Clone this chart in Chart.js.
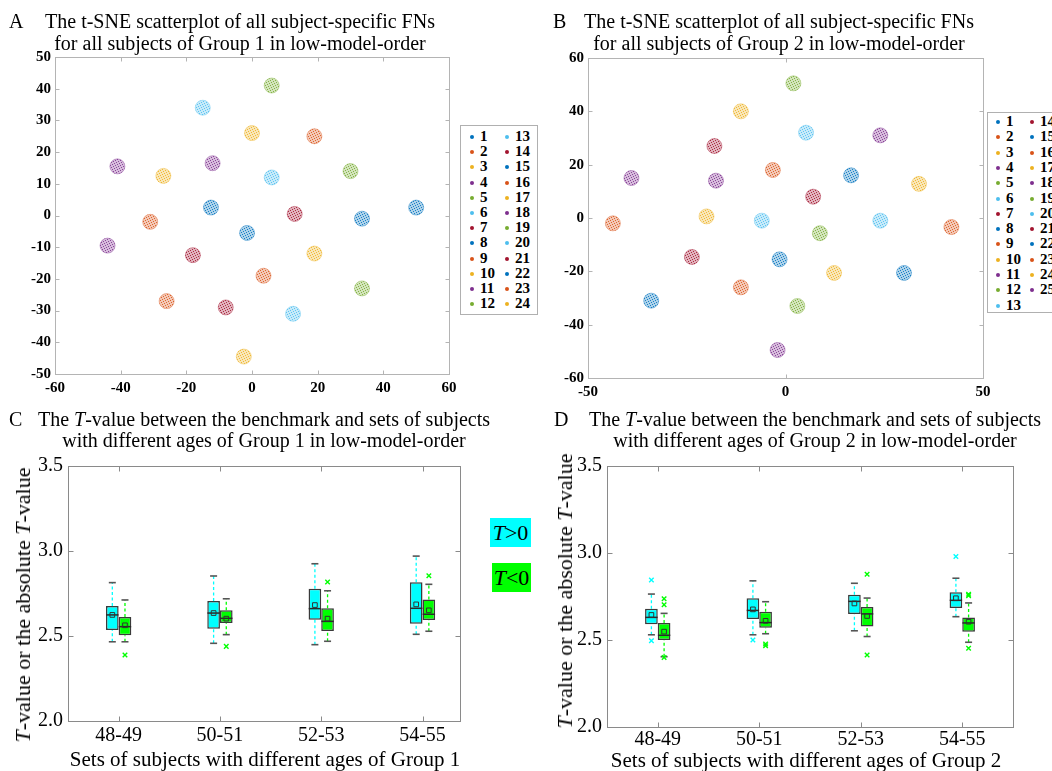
<!DOCTYPE html>
<html><head><meta charset="utf-8">
<script src="https://cdn.jsdelivr.net/npm/chart.js@4.4.1/dist/chart.umd.min.js"></script>
<style>
body{margin:0;background:#fff;}
#wrap{position:relative;width:1052px;height:771px;overflow:hidden;background:#fff;font-family:'Liberation Serif','Times New Roman',serif;color:#000;}
#wrap canvas{position:absolute;}
.t{position:absolute;white-space:nowrap;font-size:20px;}
.c{transform:translateX(-50%);text-align:center;}
.leg{position:absolute;border:1px solid #b0b0b0;background:#fff;font-weight:bold;font-size:15px;}
.leg .it{position:absolute;line-height:15px;}
.leg .dot{position:absolute;width:4px;height:4px;border-radius:50%;}
.ylab{position:absolute;white-space:nowrap;font-size:22px;transform:translate(-50%,-50%) rotate(-90deg);}
.sign{position:absolute;font-size:22px;line-height:29px;text-align:center;}
</style></head>
<body>
<div id="wrap">
  <canvas id="cA" width="545" height="410" style="left:0;top:0"></canvas>
  <canvas id="cB" width="507" height="410" style="left:545px;top:0"></canvas>
  <canvas id="cC" width="480" height="330" style="left:0;top:440px"></canvas>
  <canvas id="cD" width="507" height="330" style="left:545px;top:440px"></canvas>

  <div class="t" style="left:9px;top:10px;line-height:22px">A</div>
  <div class="t c" style="left:240px;top:10px;line-height:22px">The t-SNE scatterplot of all subject-specific FNs<br>for all subjects of Group 1 in low-model-order</div>
  <div class="t" style="left:553px;top:10px;line-height:22px">B</div>
  <div class="t c" style="left:779px;top:10px;line-height:22px">The t-SNE scatterplot of all subject-specific FNs<br>for all subjects of Group 2 in low-model-order</div>

  <div class="t" style="left:9px;top:409px;line-height:21px">C</div>
  <div class="t c" style="left:264px;top:409px;line-height:21px">The <i>T</i>-value between the benchmark and sets of subjects<br>with different ages of Group 1 in low-model-order</div>
  <div class="t" style="left:554px;top:409px;line-height:21px">D</div>
  <div class="t c" style="left:815px;top:409px;line-height:21px">The <i>T</i>-value between the benchmark and sets of subjects<br>with different ages of Group 2 in low-model-order</div>

  <div class="t c" style="left:265px;top:748px;line-height:22px;font-size:21px">Sets of subjects with different ages of Group 1</div>
  <div class="t c" style="left:806px;top:749px;line-height:22px;font-size:21px">Sets of subjects with different ages of Group 2</div>
  <div class="ylab" style="left:23px;top:605px"><i>T</i>-value or the absolute <i>T</i>-value</div>
  <div class="ylab" style="left:565px;top:591px"><i>T</i>-value or the absolute <i>T</i>-value</div>

  <div class="sign" style="left:490px;top:518px;width:41px;height:29px;background:#00FFFF"><i>T</i>&gt;0</div>
  <div class="sign" style="left:492px;top:563px;width:39px;height:29px;background:#00FF00"><i>T</i>&lt;0</div>

  <div id="legA" class="leg" style="left:460px;top:125px;width:76px;height:188px"></div>
  <div id="legB" class="leg" style="left:987px;top:112px;width:90px;height:199px"></div>
</div>
<script>
// ---------- data ----------
const FN_COLORS = ['#0072BD','#D95319','#EDB120','#7E2F8E','#77AC30','#4DBEEE','#A2142F'];

// Panel A: t-SNE cluster centres, FN 1..24 (Group 1)
const fnA_x = [-12.5, 19, 0, -41, 6, -15, 13, -1.5, -31, -27, -12, 30, 6, -18, 33.5, 3.5, 19, -44, 33.5, 12.5, -8, 50, -26, -2.5];
const fnA_y = [2.5, 25, 26, 15.5, 41, 34, 0.5, -5.5, -2, 12.5, 16.5, 14, 12, -12.5, -1, -19, -12, -9.5, -23, -31, -29, 2.5, -27, -44.5];

// Panel B: t-SNE cluster centres, FN 1..25 (Group 2)
const fnB_x = [16.6, -3.2, -11.3, 24, 2, 5.2, -18, -1.5, -43.7, 33.8, -39, 8.7, -6, 7, 30, 42, -20, -17.6, 3, 24, -23.7, -34, -11.3, 12.3, -2];
const fnB_y = [16, 18, 40, 31, 50.5, 32, 27, -15.5, -2, 12.8, 15, -5.7, -1, 8, -20.6, -3.4, 0.6, 14, -33, -1, -14.6, -31, -26, -20.6, -49.5];

const ageSets = ['48-49', '50-51', '52-53', '54-55'];

// Panel C: Group 1, T>0
const g1Pos_lo   = [2.466, 2.457, 2.449, 2.510];
const g1Pos_q1   = [2.535, 2.543, 2.596, 2.572];
const g1Pos_med  = [2.624, 2.635, 2.661, 2.663];
const g1Pos_q3   = [2.676, 2.706, 2.778, 2.816];
const g1Pos_hi   = [2.814, 2.853, 2.925, 2.970];
const g1Pos_mean = [2.624, 2.635, 2.682, 2.686];
const g1Pos_out  = [[], [], [], []];
// Panel C: Group 1, T<0
const g1Neg_lo   = [2.466, 2.508, 2.469, 2.528];
const g1Neg_q1   = [2.504, 2.576, 2.529, 2.594];
const g1Neg_med  = [2.555, 2.604, 2.586, 2.628];
const g1Neg_q3   = [2.612, 2.651, 2.663, 2.714];
const g1Neg_hi   = [2.712, 2.719, 2.766, 2.804];
const g1Neg_mean = [2.563, 2.602, 2.602, 2.651];
const g1Neg_out  = [[2.388], [2.439], [2.818], [2.855]];

// Panel D: Group 2, T>0
const g2Pos_lo   = [2.530, 2.530, 2.553, 2.634];
const g2Pos_q1   = [2.590, 2.620, 2.650, 2.684];
const g2Pos_med  = [2.630, 2.670, 2.722, 2.728];
const g2Pos_q3   = [2.680, 2.740, 2.760, 2.774];
const g2Pos_hi   = [2.764, 2.840, 2.826, 2.855];
const g2Pos_mean = [2.644, 2.676, 2.710, 2.740];
const g2Pos_out  = [[2.845, 2.496], [2.500], [], [2.980]];
// Panel D: Group 2, T<0
const g2Neg_lo   = [2.404, 2.536, 2.520, 2.487];
const g2Neg_q1   = [2.500, 2.570, 2.577, 2.548];
const g2Neg_med  = [2.527, 2.600, 2.650, 2.598];
const g2Neg_q3   = [2.598, 2.663, 2.690, 2.630];
const g2Neg_hi   = [2.653, 2.720, 2.741, 2.713];
const g2Neg_mean = [2.548, 2.610, 2.638, 2.605];
const g2Neg_out  = [[2.737, 2.703, 2.400], [2.477, 2.467], [2.878, 2.414], [2.763, 2.755, 2.452]];

// ---------- helpers ----------
const SERIF = "'Liberation Serif','Times New Roman',serif";
Chart.defaults.font.family = SERIF;
Chart.defaults.color = '#000';

function hexToRgba(h, a){
  const n = parseInt(h.slice(1), 16);
  return `rgba(${(n>>16)&255},${(n>>8)&255},${n&255},${a})`;
}
function stipple(hex){
  const c = document.createElement('canvas'); c.width = 5; c.height = 5;
  const g = c.getContext('2d');
  g.fillStyle = hexToRgba(hex, 0.32); g.fillRect(0,0,5,5);
  g.fillStyle = hexToRgba(hex, 0.85);
  [[0,0],[3,1],[1,2],[4,3],[2,4]].forEach(p => g.fillRect(p[0], p[1], 1, 1));
  return g.createPattern(c, 'repeat');
}
const colorOf = i => FN_COLORS[i % FN_COLORS.length];

const framePlugin = {
  id: 'frame',
  afterDraw(chart, args, o){
    const {ctx, chartArea: ca, scales: {x, y}} = chart;
    ctx.save();
    ctx.strokeStyle = o.color; ctx.lineWidth = 1;
    const L = Math.round(ca.left)+0.5, R = Math.round(ca.right)+0.5, T = Math.round(ca.top)+0.5, B = Math.round(ca.bottom)+0.5;
    ctx.strokeRect(L, T, R-L, B-T);
    ctx.beginPath();
    const len = o.len;
    x.ticks.forEach(t => {
      const px = Math.round(x.getPixelForValue(t.value))+0.5;
      if (px <= L+1 || px >= R-1) return;
      ctx.moveTo(px, B); ctx.lineTo(px, B-len);
      ctx.moveTo(px, T); ctx.lineTo(px, T+len);
    });
    y.ticks.forEach(t => {
      const py = Math.round(y.getPixelForValue(t.value))+0.5;
      if (py <= T+1 || py >= B-1) return;
      ctx.moveTo(L, py); ctx.lineTo(L+len, py);
      ctx.moveTo(R, py); ctx.lineTo(R-len, py);
    });
    ctx.stroke();
    ctx.restore();
  }
};

function fixW(w){ return s => { s.width = w; }; }
function fixH(h){ return s => { s.height = h; }; }
const NOGRID = {display: false, drawTicks: false};

// ---------- scatter panels ----------
function scatterPanel(id, xs, ys, cfg){
  const datasets = xs.map((x, i) => ({
    label: String(i+1),
    data: [{x: x, y: ys[i]}],
    backgroundColor: stipple(colorOf(i)),
    borderColor: hexToRgba(colorOf(i), 0.4),
    borderWidth: 1,
    pointRadius: 7.5,
    pointHoverRadius: 7.5
  }));
  return new Chart(document.getElementById(id), {
    type: 'scatter',
    data: {datasets},
    plugins: [framePlugin],
    options: {
      responsive: false, animation: false, events: [],
      layout: {padding: cfg.pad},
      plugins: {legend: {display: false}, tooltip: {enabled: false}, frame: {color: '#b4b4b4', len: 4}},
      scales: {
        x: {type: 'linear', min: cfg.xmin, max: cfg.xmax,
            grid: NOGRID, border: {display: false},
            afterBuildTicks: s => { s.ticks = cfg.xticks.map(v => ({value: v})); },
            afterFit: fixH(cfg.xh),
            ticks: {padding: 5, font: {size: 15, weight: 'bold'}, color: '#000', maxRotation: 0}},
        y: {type: 'linear', min: cfg.ymin, max: cfg.ymax,
            grid: NOGRID, border: {display: false},
            afterBuildTicks: s => { s.ticks = cfg.yticks.map(v => ({value: v})); },
            afterFit: fixW(cfg.yw),
            ticks: {padding: 4, font: {size: 15, weight: 'bold'}, color: '#000'}}
      }
    }
  });
}

function buildLegend(elId, chart, perCol, col1Left, col2Left, rowTop, rowStep){
  const el = document.getElementById(elId);
  chart.data.datasets.forEach((ds, i) => {
    const c = Math.floor(i / perCol), r = i % perCol;
    const left = c === 0 ? col1Left : col2Left;
    const top = rowTop + r * rowStep;
    const dot = document.createElement('div');
    dot.className = 'dot';
    dot.style.left = left + 'px'; dot.style.top = (top + 6) + 'px';
    dot.style.background = colorOf(i);
    el.appendChild(dot);
    const it = document.createElement('div');
    it.className = 'it';
    it.style.left = (left + 10) + 'px'; it.style.top = top + 'px';
    it.textContent = ds.label;
    el.appendChild(it);
  });
}

const rng = (a, b, s) => { const r = []; for (let v = a; v <= b + 1e-9; v += s) r.push(v); return r; };

const chA = scatterPanel('cA', fnA_x, fnA_y, {
  pad: {left: 0, right: 96, top: 57, bottom: 0}, yw: 55, xh: 36,
  xmin: -60, xmax: 60, ymin: -50, ymax: 50,
  xticks: rng(-60, 60, 20), yticks: rng(-50, 50, 10)
});
const chB = scatterPanel('cB', fnB_x, fnB_y, {
  pad: {left: 0, right: 69, top: 58, bottom: 0}, yw: 43, xh: 32,
  xmin: -50, xmax: 50, ymin: -60, ymax: 60,
  xticks: [-50, 0, 50], yticks: rng(-60, 60, 20)
});
buildLegend('legA', chA, 12, 9, 44, 3, 15.2);
buildLegend('legB', chB, 13, 8, 42, 1, 15.3);

// ---------- box plot panels ----------
const CAT_PCT = 0.25;            // two boxes share this fraction of a category
const HALF = CAT_PCT / 4;        // offset of each box centre from the category centre

function boxDatasets(s, color, sign){
  const xs = ageSets.map((_, i) => i + 1 + sign * HALF);
  const whisk = [];
  xs.forEach((x, i) => {
    whisk.push({x, y: s.lo[i]}, {x, y: s.q1[i]}, {x, y: null});
    whisk.push({x, y: s.q3[i]}, {x, y: s.hi[i]}, {x, y: null});
  });
  const caps = [];
  xs.forEach((x, i) => { caps.push({x, y: s.lo[i]}, {x, y: s.hi[i]}); });
  const outs = [];
  xs.forEach((x, i) => s.out[i].forEach(v => outs.push({x, y: v})));
  return [
    {type: 'bar', data: ageSets.map((_, i) => ({x: i + 1, y: [s.q1[i], s.q3[i]]})),
     backgroundColor: color, borderColor: '#3a3a3a', borderWidth: 1.5, borderSkipped: false,
     categoryPercentage: CAT_PCT, barPercentage: 1, order: 5},
    {type: 'line', data: whisk, borderColor: color, borderWidth: 1.3, borderDash: [3, 2.5],
     pointRadius: 0, spanGaps: false, fill: false, order: 10},
    {type: 'scatter', data: caps, pointStyle: 'line', pointRadius: 3.5, borderColor: '#555', borderWidth: 1.6, order: 3},
    {type: 'scatter', data: xs.map((x, i) => ({x, y: s.med[i]})), pointStyle: 'line', pointRadius: 6.2,
     borderColor: '#2a2a2a', borderWidth: 1.5, order: 2},
    {type: 'scatter', data: xs.map((x, i) => ({x, y: s.mean[i]})), pointStyle: 'rect', pointRadius: 3.3,
     borderColor: '#333', backgroundColor: 'rgba(0,0,0,0)', borderWidth: 1, order: 1},
    {type: 'scatter', data: outs, pointStyle: 'crossRot', pointRadius: 3.2, borderColor: color,
     borderWidth: 1.4, order: 1}
  ];
}

function boxPanel(id, pos, neg, cfg){
  return new Chart(document.getElementById(id), {
    type: 'bar',
    data: {datasets: [...boxDatasets(pos, '#00FFFF', -1), ...boxDatasets(neg, '#00FF00', 1)]},
    plugins: [framePlugin],
    options: {
      responsive: false, animation: false, events: [],
      layout: {padding: cfg.pad},
      plugins: {legend: {display: false}, tooltip: {enabled: false}, frame: {color: '#8a8a8a', len: 5}},
      scales: {
        x: {type: 'linear', min: 0.5, max: cfg.xmax, offset: false,
            grid: {display: false, drawTicks: false, offset: false}, border: {display: false},
            afterBuildTicks: s => { s.ticks = ageSets.map((_, i) => ({value: i + 1})); },
            afterFit: fixH(cfg.xh),
            ticks: {padding: cfg.xpad, font: {size: 20}, color: '#000', maxRotation: 0,
                    callback: v => ageSets[Math.round(v) - 1]}},
        y: {type: 'linear', min: 2, max: 3.5,
            grid: NOGRID, border: {display: false},
            afterBuildTicks: s => { s.ticks = [2, 2.5, 3, 3.5].map(v => ({value: v})); },
            afterFit: fixW(cfg.yw),
            ticks: {padding: 5, font: {size: 20}, color: '#000', callback: v => v.toFixed(1)}}
      }
    }
  });
}

const P = (lo, q1, med, q3, hi, mean, out) => ({lo, q1, med, q3, hi, mean, out});
boxPanel('cC',
  P(g1Pos_lo, g1Pos_q1, g1Pos_med, g1Pos_q3, g1Pos_hi, g1Pos_mean, g1Pos_out),
  P(g1Neg_lo, g1Neg_q1, g1Neg_med, g1Neg_q3, g1Neg_hi, g1Neg_mean, g1Neg_out),
  {pad: {left: 0, right: 20, top: 26, bottom: 0}, yw: 68, xh: 49, xmax: 4.37, xpad: 3});
boxPanel('cD',
  P(g2Pos_lo, g2Pos_q1, g2Pos_med, g2Pos_q3, g2Pos_hi, g2Pos_mean, g2Pos_out),
  P(g2Neg_lo, g2Neg_q1, g2Neg_med, g2Neg_q3, g2Neg_hi, g2Neg_mean, g2Neg_out),
  {pad: {left: 0, right: 39, top: 26, bottom: 0}, yw: 62, xh: 43, xmax: 4.5, xpad: 1});
</script>
</body></html>
